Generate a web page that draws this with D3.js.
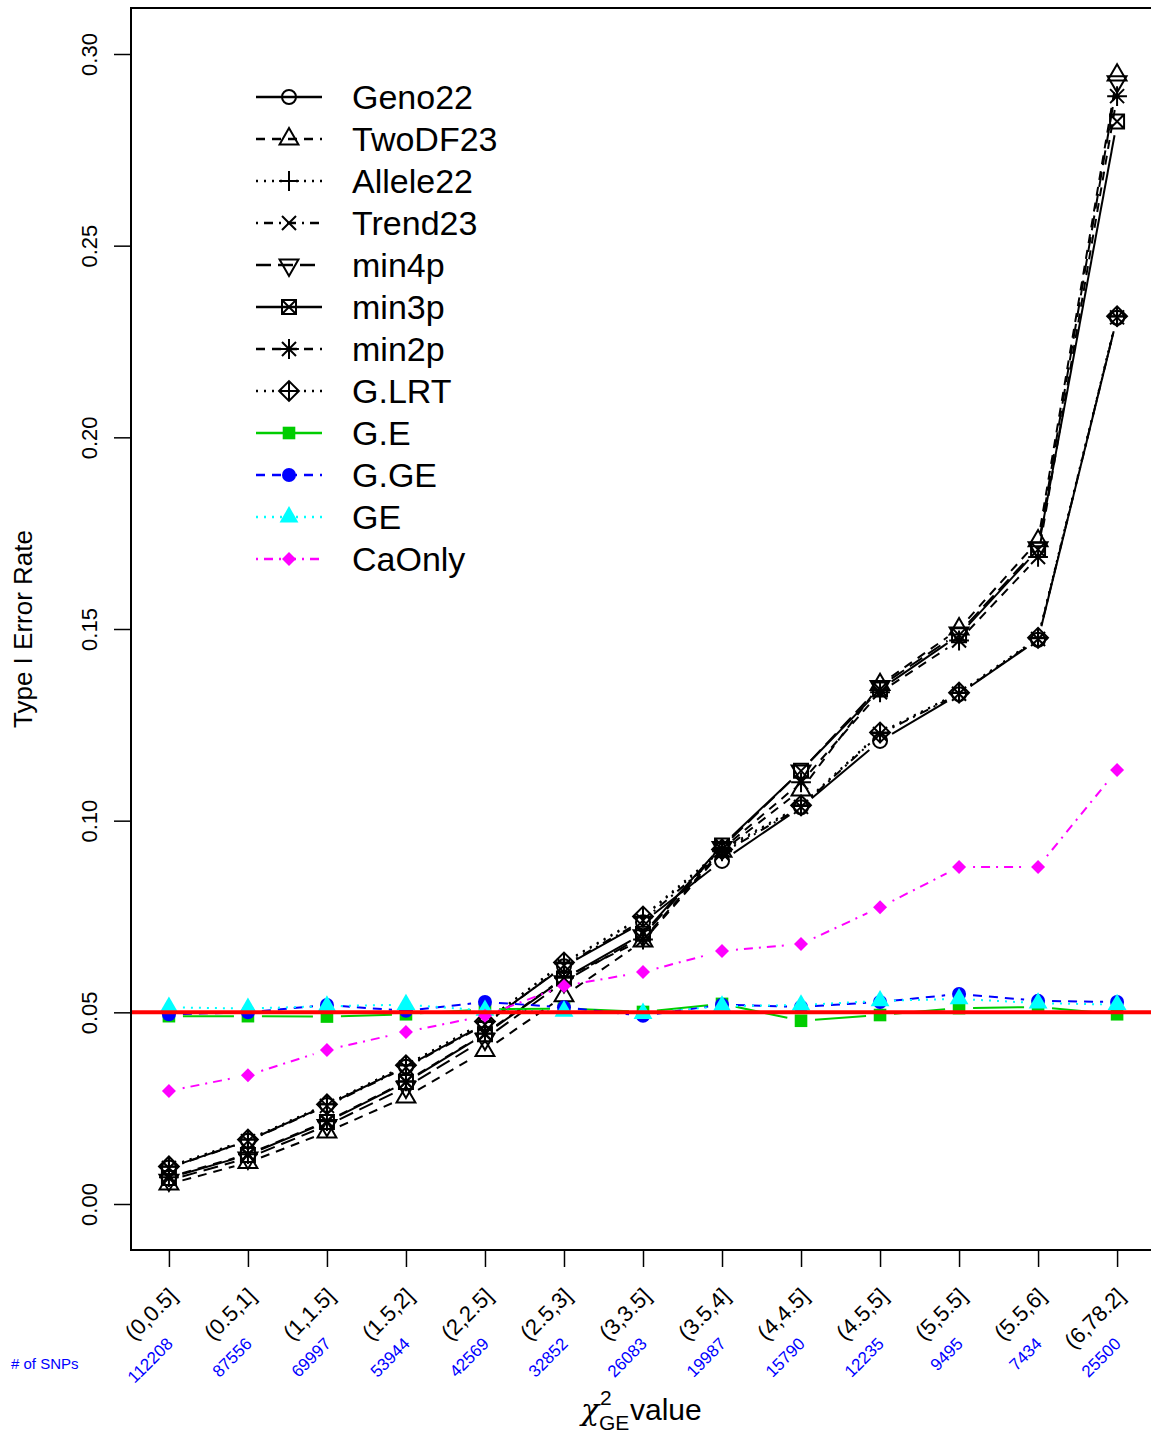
<!DOCTYPE html>
<html>
<head>
<meta charset="utf-8">
<script src="https://cdn.jsdelivr.net/npm/d3@7"></script>
<style>
  body { margin: 0; background: #fff; }
  text { font-family: "Liberation Sans", Arial, Helvetica, sans-serif; }
</style>
</head>
<body>
<div id="chart"></div>
<script>
// Data
const categories = ["(0,0.5]", "(0.5,1]", "(1,1.5]", "(1.5,2]", "(2,2.5]", "(2.5,3]", "(3,3.5]",
  "(3.5,4]", "(4,4.5]", "(4.5,5]", "(5,5.5]", "(5.5,6]", "(6,78.2]"];
const snpCounts = ["112208", "87556", "69997", "53944", "42569", "32852", "26083",
  "19987", "15790", "12235", "9495", "7434", "25500"];
const yTicks = [0, 0.05, 0.10, 0.15, 0.20, 0.25, 0.30];
const nominalLevel = 0.05;

const geno22 = [0.0095, 0.0165, 0.0258, 0.0358, 0.0470, 0.0620, 0.0735, 0.0895, 0.1035, 0.1208, 0.1330, 0.1472, 0.2312];
const twoDF23 = [0.0052, 0.0108, 0.0188, 0.0279, 0.0400, 0.0543, 0.0686, 0.0920, 0.1080, 0.1355, 0.1500, 0.1730, 0.2945];
const allele22 = [0.0097, 0.0168, 0.0260, 0.0362, 0.0475, 0.0628, 0.0748, 0.0920, 0.1038, 0.1228, 0.1333, 0.1476, 0.2315];
const trend23 = [0.0094, 0.0164, 0.0256, 0.0356, 0.0468, 0.0622, 0.0740, 0.0915, 0.1036, 0.1226, 0.1331, 0.1474, 0.2313];
const min4p = [0.0062, 0.0120, 0.0205, 0.0305, 0.0430, 0.0580, 0.0700, 0.0930, 0.1130, 0.1350, 0.1490, 0.1712, 0.2928];
const min3p = [0.0068, 0.0128, 0.0214, 0.0318, 0.0443, 0.0588, 0.0705, 0.0935, 0.1130, 0.1342, 0.1484, 0.1707, 0.2824];
const min2p = [0.0070, 0.0130, 0.0216, 0.0320, 0.0445, 0.0590, 0.0690, 0.0925, 0.1100, 0.1335, 0.1470, 0.1688, 0.2890];
const gLRT = [0.0098, 0.0168, 0.0260, 0.0362, 0.0476, 0.0630, 0.0750, 0.0925, 0.1040, 0.1230, 0.1334, 0.1477, 0.2316];
const gE = [0.0490, 0.0490, 0.0489, 0.0495, 0.0508, 0.0510, 0.0501, 0.0522, 0.0478, 0.0493, 0.0511, 0.0514, 0.0495];
const gGE = [0.0495, 0.0500, 0.0519, 0.0504, 0.0527, 0.0513, 0.0491, 0.0520, 0.0514, 0.0527, 0.0548, 0.0530, 0.0527];
const ge = [0.0513, 0.0510, 0.0516, 0.0520, 0.0505, 0.0503, 0.0497, 0.0516, 0.0519, 0.0530, 0.0535, 0.0524, 0.0520];
const caOnly = [0.0295, 0.0336, 0.0402, 0.0449, 0.0491, 0.0569, 0.0605, 0.0660, 0.0678, 0.0774, 0.0879, 0.0879, 0.1132];

const seriesNames = ["Geno22", "TwoDF23", "Allele22", "Trend23", "min4p", "min3p", "min2p", "G.LRT",
  "G.E", "G.GE", "GE", "CaOnly"];
const seriesValues = [geno22, twoDF23, allele22, trend23, min4p, min3p, min2p, gLRT, gE, gGE, ge, caOnly];

// styles (R-like colour, lty, pch)
const seriesColors = ["#000", "#000", "#000", "#000", "#000", "#000", "#000", "#000",
  "#00CD00", "#0000FF", "#00FFFF", "#FF00FF"];
const seriesLty = [1, 2, 3, 4, 5, 1, 2, 3, 1, 2, 3, 4];
const seriesPch = [1, 2, 3, 4, 6, 7, 8, 9, 15, 16, 17, 18];

const dashes = { 1: null, 2: "9,7", 3: "2,6", 4: "2,6,9,6", 5: "15,7" };

const width = 1151, height = 1435;
const plotLeft = 131, plotRight = 1155, plotTop = 8, plotBottom = 1250;

const svg = d3.select("#chart").append("svg")
  .attr("width", width)
  .attr("height", height);

// Scales
const x = d3.scalePoint().domain(categories).range([plotLeft, plotRight]).padding(0.48);
const y = d3.scaleLinear().domain([-0.012, 0.312]).range([plotBottom, plotTop]);

// symbol shapes like R's pch
const R = 7;
function symPath(pch) {
  const p = d3.path();
  const s2 = Math.SQRT2 * R;
  const tr = 1.5551 * R, tyc = 0.7776 * R, txc = 1.3468 * R;
  switch (pch) {
    case 1: case 16:
      p.moveTo(R, 0); p.arc(0, 0, R, 0, 2 * Math.PI); break;
    case 2: case 17:
      p.moveTo(0, -tr); p.lineTo(txc, tyc); p.lineTo(-txc, tyc); p.closePath(); break;
    case 6:
      p.moveTo(0, tr); p.lineTo(txc, -tyc); p.lineTo(-txc, -tyc); p.closePath(); break;
    case 3:
      p.moveTo(-s2, 0); p.lineTo(s2, 0); p.moveTo(0, -s2); p.lineTo(0, s2); break;
    case 4:
      p.moveTo(-R, -R); p.lineTo(R, R); p.moveTo(-R, R); p.lineTo(R, -R); break;
    case 7:
      p.rect(-R, -R, 2 * R, 2 * R);
      p.moveTo(-R, -R); p.lineTo(R, R); p.moveTo(-R, R); p.lineTo(R, -R); break;
    case 8:
      p.moveTo(-s2, 0); p.lineTo(s2, 0); p.moveTo(0, -s2); p.lineTo(0, s2);
      p.moveTo(-R, -R); p.lineTo(R, R); p.moveTo(-R, R); p.lineTo(R, -R); break;
    case 9:
      p.moveTo(-s2, 0); p.lineTo(0, -s2); p.lineTo(s2, 0); p.lineTo(0, s2); p.closePath();
      p.moveTo(-s2, 0); p.lineTo(s2, 0); p.moveTo(0, -s2); p.lineTo(0, s2); break;
    case 15:
      p.rect(-R * 0.9, -R * 0.9, 1.8 * R, 1.8 * R); break;
    case 16:
      break;
    case 18:
      p.moveTo(-R, 0); p.lineTo(0, -R); p.lineTo(R, 0); p.lineTo(0, R); p.closePath(); break;
  }
  return p.toString();
}
const filled = (pch) => pch >= 15;

function drawSymbol(g, pch, col, cx, cy) {
  g.append("path")
    .attr("d", symPath(pch))
    .attr("transform", `translate(${cx},${cy})`)
    .attr("fill", filled(pch) ? col : "none")
    .attr("stroke", filled(pch) ? "none" : col)
    .attr("stroke-width", 2);
}

// Series (type = "b": lines with gaps around the points)
const gap = 14;
const line = d3.line();
const plot = svg.append("g");
seriesValues.forEach((vals, s) => {
  const g = plot.append("g");
  const pts = vals.map((v, i) => [x(categories[i]), y(v)]);
  for (let i = 0; i < pts.length - 1; i++) {
    const [x0, y0] = pts[i], [x1, y1] = pts[i + 1];
    const d = Math.hypot(x1 - x0, y1 - y0);
    if (d <= 2 * gap) continue;
    const ux = (x1 - x0) / d, uy = (y1 - y0) / d;
    g.append("path")
      .attr("d", line([[x0 + ux * gap, y0 + uy * gap], [x1 - ux * gap, y1 - uy * gap]]))
      .attr("fill", "none")
      .attr("stroke", seriesColors[s])
      .attr("stroke-width", 2)
      .attr("stroke-dasharray", dashes[seriesLty[s]]);
  }
  pts.forEach(([px, py]) => drawSymbol(g, seriesPch[s], seriesColors[s], px, py));
});

// Reference line at nominal level
svg.append("line")
  .attr("x1", plotLeft).attr("x2", plotRight)
  .attr("y1", y(nominalLevel)).attr("y2", y(nominalLevel))
  .attr("stroke", "#FF0000")
  .attr("stroke-width", 4);

// Box
svg.append("rect")
  .attr("x", plotLeft).attr("y", plotTop)
  .attr("width", plotRight - plotLeft).attr("height", plotBottom - plotTop)
  .attr("fill", "none")
  .attr("stroke", "#000")
  .attr("stroke-width", 2);

// Axes
const yAxis = svg.append("g")
  .attr("transform", `translate(${plotLeft},0)`)
  .call(d3.axisLeft(y).tickValues(yTicks).tickFormat(d3.format(".2f")).tickSize(17));
yAxis.select(".domain").remove();
yAxis.selectAll("line").attr("stroke-width", 1.5);
yAxis.selectAll("text")
  .attr("x", 0).attr("y", -34).attr("dy", null)
  .attr("transform", "rotate(-90)")
  .attr("text-anchor", "middle")
  .attr("fill", "#000")
  .style("font-family", "Liberation Sans, Arial, sans-serif")
  .style("font-size", "22px");

const xAxis = svg.append("g")
  .attr("transform", `translate(0,${plotBottom})`)
  .call(d3.axisBottom(x).tickSize(17).tickFormat(""));
xAxis.select(".domain").remove();
xAxis.selectAll("line").attr("stroke-width", 1.5);

// Category labels (rotated 45 degrees)
svg.append("g").selectAll("text")
  .data(categories)
  .join("text")
  .attr("transform", (d) => `translate(${x(d) + 4},${1292}) rotate(-45)`)
  .attr("text-anchor", "end")
  .attr("dominant-baseline", "central")
  .style("font-size", "22px")
  .text((d) => d);

// SNP counts
svg.append("g").selectAll("text")
  .data(snpCounts)
  .join("text")
  .attr("transform", (d, i) => `translate(${x(categories[i]) + 1},${1341}) rotate(-45)`)
  .attr("text-anchor", "end")
  .attr("dominant-baseline", "central")
  .attr("fill", "#0000FF")
  .style("font-size", "17px")
  .text((d) => d);

svg.append("text")
  .attr("x", 11).attr("y", 1369)
  .attr("fill", "#0000FF")
  .style("font-size", "15px")
  .text("# of SNPs");

// Axis titles
const xt = svg.append("g");
xt.append("text").attr("x", 581).attr("y", 1420).style("font-size", "30px")
  .style("font-family", "DejaVu Serif, serif").style("font-style", "italic").text("χ");
xt.append("text").attr("x", 600).attr("y", 1405).style("font-size", "21px").text("2");
xt.append("text").attr("x", 599).attr("y", 1430).style("font-size", "21px").text("GE");
xt.append("text").attr("x", 630).attr("y", 1420).style("font-size", "30px").text("value");

svg.append("text")
  .attr("transform", `translate(32,${(plotTop + plotBottom) / 2}) rotate(-90)`)
  .attr("text-anchor", "middle")
  .style("font-size", "26px")
  .text("Type I Error Rate");

// Legend
const legend = svg.append("g");
seriesNames.forEach((name, s) => {
  const ly = 97 + 42 * s;
  legend.append("path")
    .attr("d", line([[256, ly], [322, ly]]))
    .attr("stroke", seriesColors[s])
    .attr("stroke-width", 2.5)
    .attr("stroke-dasharray", dashes[seriesLty[s]]);
  drawSymbol(legend, seriesPch[s], seriesColors[s], 289, ly);
  legend.append("text")
    .attr("x", 352).attr("y", ly + 12)
    .style("font-size", "34px")
    .text(name);
});
</script>
</body>
</html>
